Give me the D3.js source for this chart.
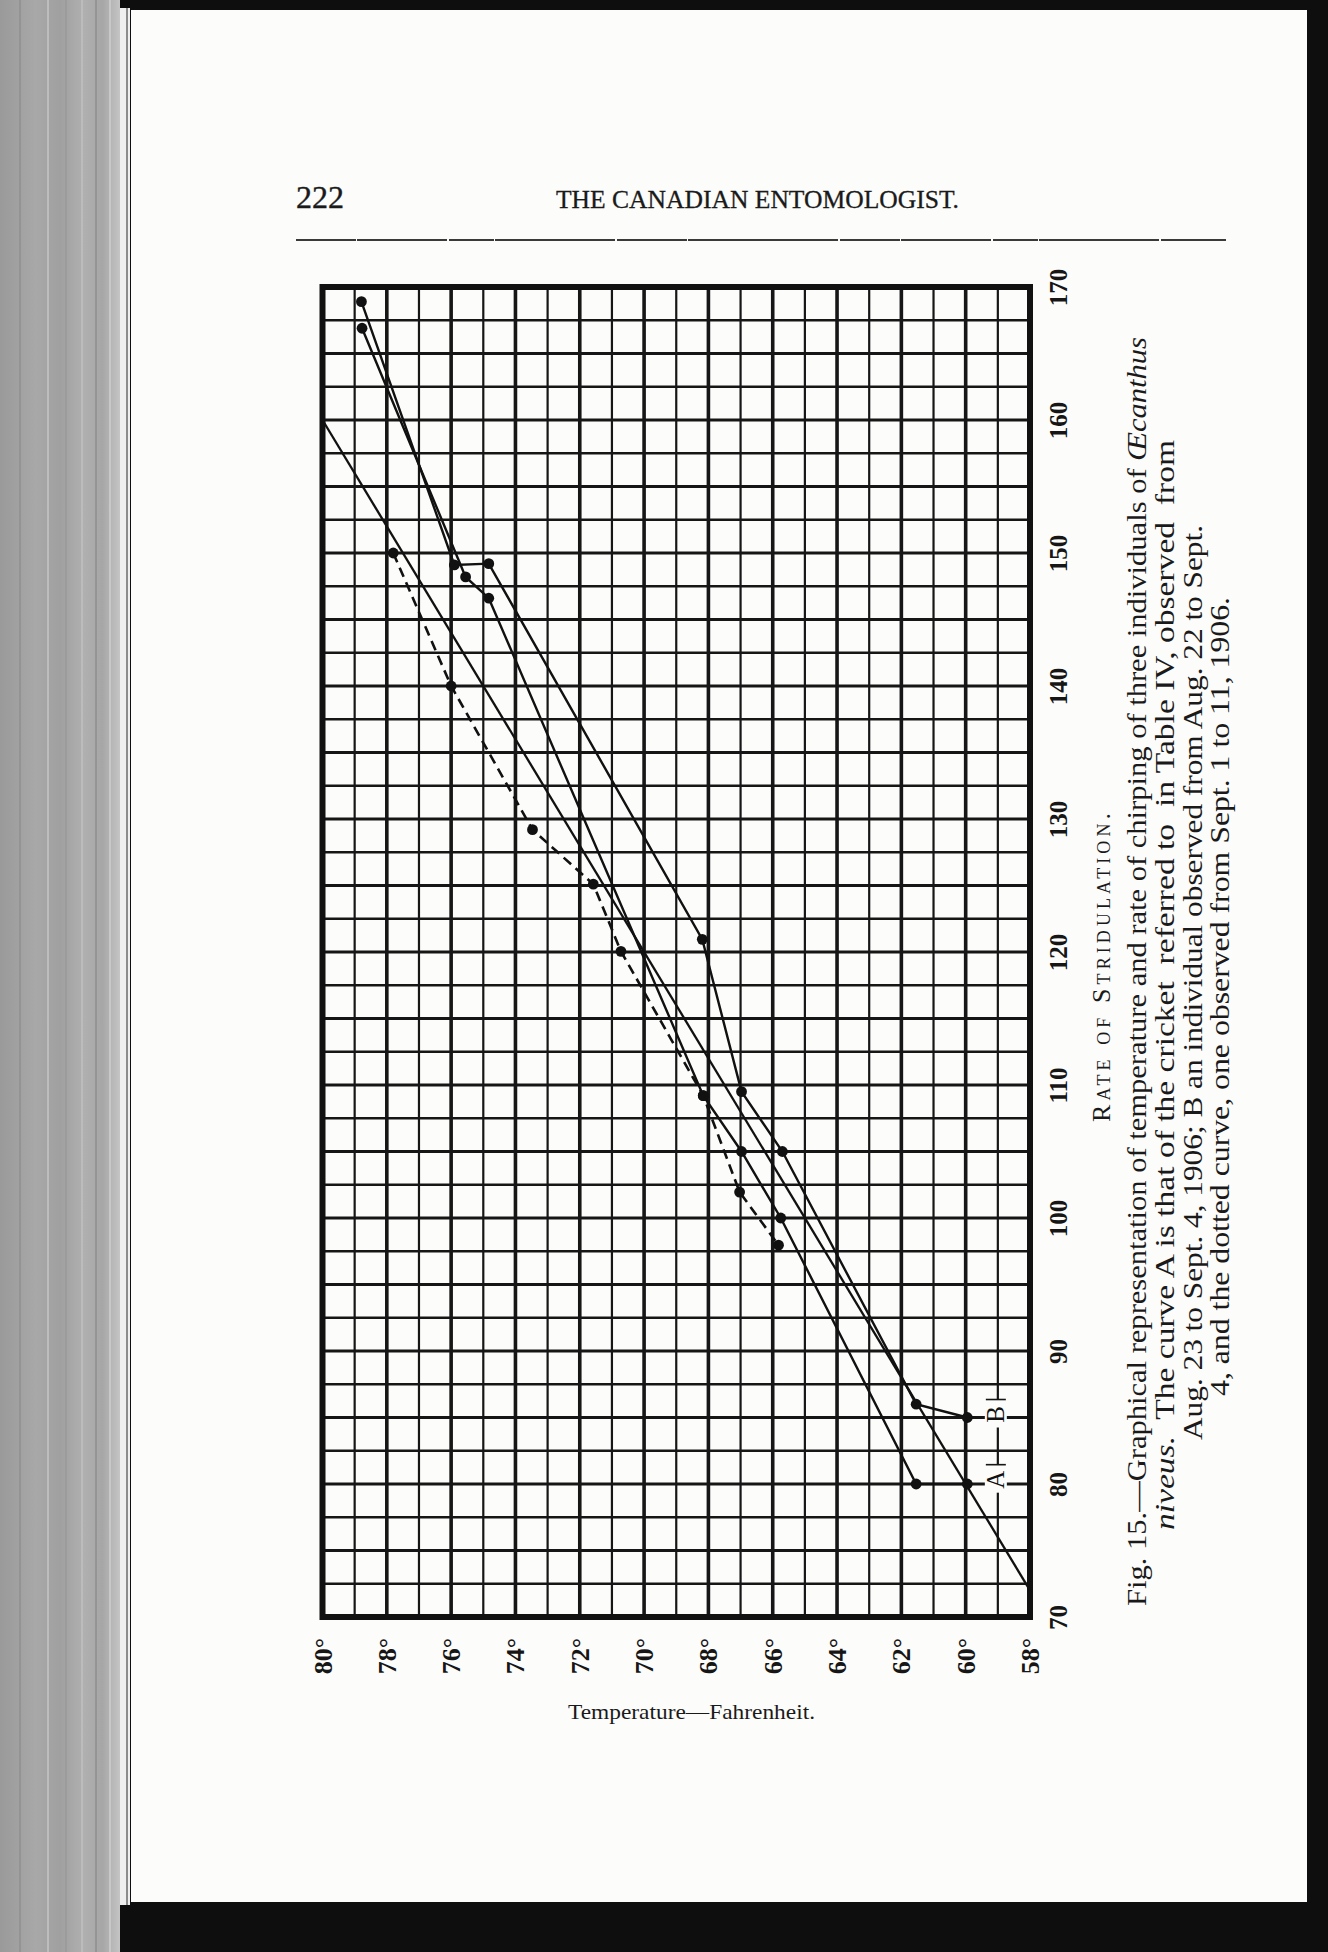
<!DOCTYPE html>
<html>
<head>
<meta charset="utf-8">
<script src="https://cdn.jsdelivr.net/npm/d3@7"></script>
<style>
html,body{margin:0;padding:0;background:#0e0e0e;}
svg{display:block;}
</style>
</head>
<body>
<svg id="c" width="1328" height="1952"></svg>
<script>
// ---------- data ----------
const tempTicks = [80, 78, 76, 74, 72, 70, 68, 66, 64, 62, 60, 58];          // Temperature (°F)
const rateTicks = [70, 80, 90, 100, 110, 120, 130, 140, 150, 160, 170];      // Rate of stridulation

// Curve A (solid)
const curveATemp = [78.77, 75.55, 74.83, 68.16, 66.97, 65.75, 61.54, 59.95];
const curveARate = [166.9, 148.2, 146.6, 109.2, 105.0, 100.0, 80.0, 80.0];
// Curve B (solid)
const curveBTemp = [78.79, 75.90, 74.83, 68.19, 66.97, 65.70, 61.54, 59.95];
const curveBRate = [168.9, 149.1, 149.2, 120.95, 109.5, 105.0, 86.0, 85.0];
// Dotted curve
const dottedTemp = [77.80, 76.00, 73.47, 71.58, 70.72, 68.16, 67.03, 65.82];
const dottedRate = [150.0, 140.0, 129.2, 125.1, 120.05, 109.2, 101.95, 97.96];
// Straight reference line (no dots)
const straightTemp = [80, 58];
const straightRate = [160, 72];

const curveLabels = ["A", "B"];
const labelTemp = [59, 59];
const labelRate = [80.4, 85.3];

const captionLines = [
  [["Fig. 15.—Graphical representation of temperature and rate of chirping of three individuals of ", false], ["Œcanthus", true]],
  [["niveus.", true], ["  The curve A is that of the cricket  referred to  in Table IV, observed  from", false]],
  [["Aug. 23 to Sept. 4, 1906; B an individual observed from Aug. 22 to Sept.", false]],
  [["4, and the dotted curve, one observed from Sept. 1 to 11, 1906.", false]]
];

// ---------- drawing ----------
const svg = d3.select("#c");
const W = 1328, H = 1952;

// scanned page background
const defs = svg.append("defs");
const bind = defs.append("linearGradient").attr("id", "bind").attr("x1", 0).attr("x2", 1).attr("y1", 0).attr("y2", 0);
[[0, "#9a9a9a"], [0.3, "#a8a8a8"], [0.5, "#a0a0a0"], [0.7, "#b0b0b0"], [0.85, "#a6a6a6"], [1, "#c4c4c4"]]
  .forEach(s => bind.append("stop").attr("offset", s[0]).attr("stop-color", s[1]));

svg.append("rect").attr("width", W).attr("height", H).attr("fill", "#0e0e0e");
svg.append("rect").attr("x", 0).attr("y", 0).attr("width", 120).attr("height", H).attr("fill", "url(#bind)");
[[20, "#8f8f8f", 1.5], [48, "#bdbdbd", 2], [66, "#939393", 1], [82, "#bcbcbc", 2], [96, "#8e8e8e", 1.5], [110, "#c8c8c8", 2]]
  .forEach(l => svg.append("line").attr("x1", l[0]).attr("x2", l[0]).attr("y1", 0).attr("y2", H)
    .attr("stroke", l[1]).attr("stroke-width", l[2]));
svg.append("rect").attr("x", 120).attr("y", 8).attr("width", 10).attr("height", 1897).attr("fill", "#efefef");
svg.append("line").attr("x1", 127).attr("x2", 127).attr("y1", 8).attr("y2", 1905).attr("stroke", "#8c8c8c").attr("stroke-width", 2);
svg.append("rect").attr("x", 131).attr("y", 10).attr("width", 1176).attr("height", 1892).attr("fill", "#fcfcfb");

// header
svg.append("text").attr("x", 296).attr("y", 208).attr("font-family", "Liberation Serif")
  .attr("font-size", 32).attr("fill", "#1a1a1a").attr("stroke", "#1a1a1a").attr("stroke-width", 0.4)
  .attr("textLength", 48).attr("lengthAdjust", "spacingAndGlyphs").text("222");
svg.append("text").attr("x", 556).attr("y", 208).attr("font-family", "Liberation Serif")
  .attr("font-size", 25).attr("fill", "#1a1a1a").attr("stroke", "#1a1a1a").attr("stroke-width", 0.3)
  .attr("textLength", 403).attr("lengthAdjust", "spacingAndGlyphs")
  .text("THE CANADIAN ENTOMOLOGIST.");
svg.append("line").attr("x1", 296).attr("x2", 1226).attr("y1", 240).attr("y2", 240)
  .attr("stroke", "#3a3a3a").attr("stroke-width", 2).attr("stroke-dasharray", "60,1,90,2,45,1,120,2,70,1,150,2");

// scales
const x = d3.scaleLinear().domain([80, 58]).range([322.5, 1030]);
const y = d3.scaleLinear().domain([70, 170]).range([1617, 287]);

const g = svg.append("g");

// grid
const gridColor = "#161616";
d3.range(58, 81, 1).forEach(t => {
  g.append("line").attr("x1", x(t)).attr("x2", x(t)).attr("y1", y(70)).attr("y2", y(170))
    .attr("stroke", gridColor).attr("stroke-width", t % 2 === 0 ? 3.6 : 2.2);
});
d3.range(70, 170.01, 2.5).forEach(r => {
  g.append("line").attr("x1", x(80)).attr("x2", x(58)).attr("y1", y(r)).attr("y2", y(r))
    .attr("stroke", gridColor).attr("stroke-width", r % 5 === 0 ? 3.1 : 2.3);
});
g.append("rect").attr("x", x(80)).attr("y", y(170)).attr("width", x(58) - x(80)).attr("height", y(70) - y(170))
  .attr("fill", "none").attr("stroke", "#111").attr("stroke-width", 6);

// curve labels A and B (white-backed, on the 59° line)
curveLabels.forEach((lab, i) => {
  const cx = x(labelTemp[i]) - 2, cy = y(labelRate[i]);
  g.append("rect").attr("x", cx - 11).attr("y", cy - 14).attr("width", 22).attr("height", 28).attr("fill", "#fcfcfb");
  g.append("line").attr("x1", cx - 10).attr("x2", cx + 10).attr("y1", cy - 14).attr("y2", cy - 14)
    .attr("stroke", "#161616").attr("stroke-width", 1.6);
  g.append("text").attr("transform", `translate(${cx},${cy + 1}) rotate(-90)`)
    .attr("text-anchor", "middle").attr("dominant-baseline", "central")
    .attr("font-family", "Liberation Serif").attr("font-size", 25).attr("fill", "#111").text(lab);
});

// series
const line = d3.line().x(d => x(d[0])).y(d => y(d[1]));
const zip = (a, b) => a.map((v, i) => [v, b[i]]);
const straight = zip(straightTemp, straightRate);
const A = zip(curveATemp, curveARate);
const B = zip(curveBTemp, curveBRate);
const D = zip(dottedTemp, dottedRate);

g.append("path").attr("d", line(straight)).attr("fill", "none").attr("stroke", "#111").attr("stroke-width", 2.3);
g.append("path").attr("d", line(A)).attr("fill", "none").attr("stroke", "#111").attr("stroke-width", 2.4);
g.append("path").attr("d", line(B)).attr("fill", "none").attr("stroke", "#111").attr("stroke-width", 2.4);
g.append("path").attr("d", line(D)).attr("fill", "none").attr("stroke", "#111").attr("stroke-width", 2.6)
  .attr("stroke-dasharray", "10,6");

[A, B, D].forEach(s => {
  g.selectAll(null).data(s).enter().append("circle")
    .attr("cx", d => x(d[0])).attr("cy", d => y(d[1])).attr("r", 5.4).attr("fill", "#111");
});

// axes (labels only, rotated like the page)
const tickFont = "Liberation Serif";
const ax = g.append("g").attr("transform", `translate(0,${y(70) + 39})`)
  .call(d3.axisBottom(x).tickValues(tempTicks).tickSize(0).tickFormat(d => d + "°"));
ax.select(".domain").remove();
ax.selectAll("text").attr("x", 0).attr("y", 0).attr("dy", null)
  .attr("transform", "rotate(-90)").attr("text-anchor", "middle").attr("dominant-baseline", "central")
  .attr("font-family", tickFont).attr("font-weight", "bold").attr("font-size", 26).attr("fill", "#161616");

const ay = g.append("g").attr("transform", `translate(1058,0)`)
  .call(d3.axisRight(y).tickValues(rateTicks).tickSize(0).tickFormat(d => String(d)));
ay.select(".domain").remove();
ay.selectAll("text").attr("x", 0).attr("y", 0).attr("dy", null)
  .attr("transform", "rotate(-90)").attr("text-anchor", "middle").attr("dominant-baseline", "central")
  .attr("font-family", tickFont).attr("font-weight", "bold").attr("font-size", 25).attr("fill", "#161616");

// axis titles
svg.append("text").attr("x", 691.5).attr("y", 1719).attr("text-anchor", "middle")
  .attr("font-family", "Liberation Serif").attr("font-size", 21).attr("fill", "#1a1a1a")
  .attr("textLength", 247).attr("lengthAdjust", "spacingAndGlyphs").text("Temperature—Fahrenheit.");

svg.append("text").attr("transform", "translate(1101,1122) rotate(-90)").attr("dominant-baseline", "central")
  .attr("font-family", "Liberation Serif").attr("font-size", 26).attr("fill", "#1a1a1a")
  .attr("font-variant", "small-caps").attr("textLength", 309).attr("lengthAdjust", "spacing")
  .text("Rate of Stridulation.");

// caption
const capX = [1137, 1165, 1193, 1220];
const capStart = [1606, 1530, 1440, 1396];
const capEnd = [337, 440, 525, 597];
captionLines.forEach((parts, i) => {
  const t = svg.append("text").attr("transform", `translate(${capX[i]},${capStart[i]}) rotate(-90)`)
    .attr("dominant-baseline", "central").attr("font-family", "Liberation Serif").attr("font-size", 27)
    .attr("fill", "#1a1a1a").attr("textLength", capStart[i] - capEnd[i]).attr("lengthAdjust", "spacingAndGlyphs")
    .attr("xml:space", "preserve").style("white-space", "pre");
  parts.forEach(p => t.append("tspan").attr("font-style", p[1] ? "italic" : "normal").text(p[0]));
});
</script>
</body>
</html>
